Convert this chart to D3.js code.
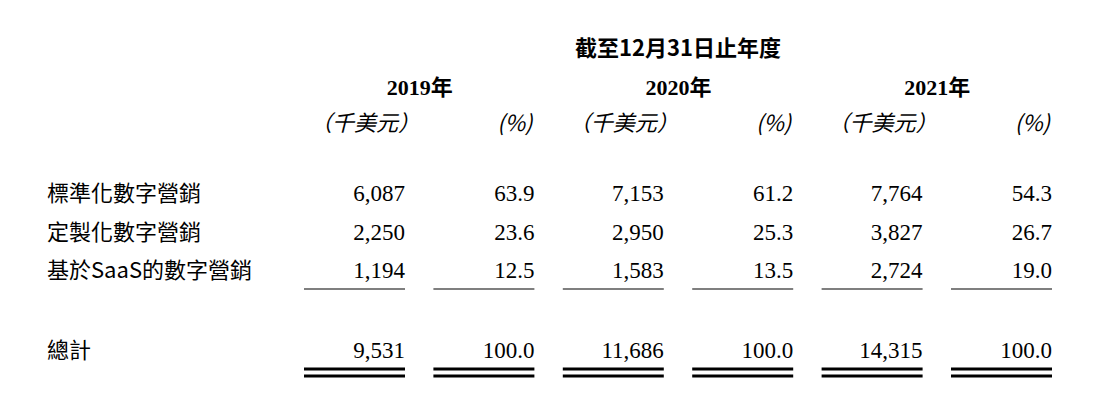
<!DOCTYPE html>
<html><head><meta charset="utf-8">
<script src="https://cdn.jsdelivr.net/npm/d3@7"></script>
<style>body{margin:0;background:#fff}</style></head>
<body><svg id="c" width="1101" height="407"></svg>
<script>
const header = "截至12月31日止年度";
const years = ["2019年","2020年","2021年"];
const units = ["（千美元）","(%)","（千美元）","(%)","（千美元）","(%)"];
const categories = ["標準化數字營銷","定製化數字營銷","基於SaaS的數字營銷"];
const values = [
  ["6,087","63.9","7,153","61.2","7,764","54.3"],
  ["2,250","23.6","2,950","25.3","3,827","26.7"],
  ["1,194","12.5","1,583","13.5","2,724","19.0"]
];
const totalLabel = "總計";
const totals = ["9,531","100.0","11,686","100.0","14,315","100.0"];

const svg = d3.select("#c");
const serif = "'Liberation Serif','Times New Roman',serif";
const cjk = "'Noto Sans CJK TC','Noto Sans CJK SC',sans-serif";
const colX = d3.scaleLinear().domain([0,5]).range([405,1052]);
const colW = 101;
const rowY = d3.scaleLinear().domain([0,2]).range([201,278]);

svg.append("text").attr("x",678).attr("y",56).attr("text-anchor","middle")
  .attr("font-family",cjk).attr("font-weight","bold").attr("font-size",22).text(header);
svg.selectAll(".yr").data(years).join("text")
  .attr("x",(d,i)=>(colX(i*2)+colX(i*2+1))/2-50).attr("y",95).attr("text-anchor","middle")
  .attr("font-family",serif+","+cjk).attr("font-weight","bold").attr("font-size",22).text(d=>d);
svg.selectAll(".un").data(units).join("text")
  .attr("x",(d,i)=>i%2?colX(i)-2:colX(i)-colW+6).attr("y",131)
  .attr("text-anchor",(d,i)=>i%2?"end":"start")
  .attr("font-family",cjk).attr("font-style","italic").attr("font-size",22).attr("fill","#000").text(d=>d);

const rows = svg.selectAll(".row").data(values).join("g").attr("transform",(d,i)=>`translate(0,${rowY(i)})`);
rows.append("text").attr("x",47).attr("font-family",cjk).attr("font-size",22).text((d,i)=>categories[i]);
rows.selectAll("text.v").data(d=>d).join("text").attr("class","v")
  .attr("x",(d,i)=>colX(i)).attr("text-anchor","end").attr("font-family",serif).attr("font-size",23).text(d=>d);

const tot = svg.append("g").attr("transform","translate(0,358)");
tot.append("text").attr("x",47).attr("font-family",cjk).attr("font-size",22).text(totalLabel);
tot.selectAll("text.v").data(totals).join("text").attr("class","v")
  .attr("x",(d,i)=>colX(i)).attr("text-anchor","end").attr("font-family",serif).attr("font-size",23).text(d=>d);

const idx = d3.range(6);
svg.selectAll(".l1").data(idx).join("line").attr("x1",i=>colX(i)-colW).attr("x2",i=>colX(i))
  .attr("y1",289).attr("y2",289).attr("stroke","#000").attr("stroke-width",1.2);
[369,376].forEach(y=>svg.selectAll(".l"+y).data(idx).join("line").attr("x1",i=>colX(i)-colW).attr("x2",i=>colX(i))
  .attr("y1",y).attr("y2",y).attr("stroke","#000").attr("stroke-width",3.2));
</script></body></html>
